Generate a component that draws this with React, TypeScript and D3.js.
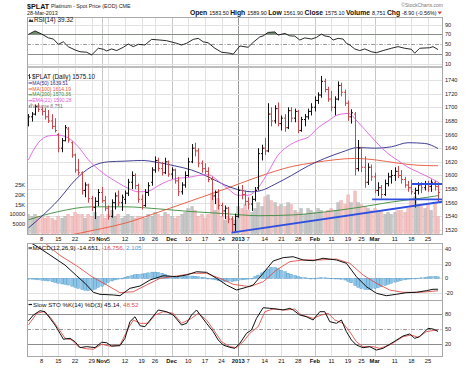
import React from "react";
import * as d3 from "d3";

// ---------- DATA ----------
const opens = [
  1676, 1686, 1690, 1701, 1697, 1694, 1686, 1680, 1672, 1660,
  1640, 1651, 1668, 1648, 1630, 1608, 1604, 1578, 1586, 1566,
  1553, 1562, 1575, 1563, 1552, 1540, 1560, 1570, 1560, 1565,
  1574, 1590, 1600, 1585, 1565, 1556, 1575, 1590, 1608, 1622,
  1610, 1604, 1620, 1602, 1608, 1592, 1576, 1586, 1600, 1620,
  1640, 1636, 1618, 1610, 1606, 1594, 1570, 1575, 1556, 1548,
  1552, 1536, 1528, 1540, 1578, 1572, 1562, 1558, 1565, 1582,
  1632, 1640, 1636, 1690, 1680, 1698, 1676, 1684, 1670, 1695,
  1684, 1694, 1666, 1682, 1686, 1694, 1700, 1710, 1718, 1738,
  1726, 1712, 1700, 1712, 1732, 1722, 1706, 1686, 1690, 1610,
  1640, 1612, 1590, 1612, 1598, 1578, 1582, 1572, 1588, 1598,
  1600, 1606, 1600, 1594, 1586, 1582, 1574, 1578, 1586, 1582,
  1588, 1584, 1590, 1583.5,
];
const highs = [
  1690, 1693, 1704, 1706, 1701, 1699, 1696, 1690, 1684, 1662,
  1655, 1674, 1671, 1650, 1632, 1624, 1606, 1590, 1588, 1570,
  1568, 1580, 1583, 1570, 1556, 1565, 1575, 1578, 1572, 1578,
  1595, 1606, 1603, 1588, 1572, 1580, 1590, 1612, 1628, 1626,
  1620, 1626, 1622, 1612, 1610, 1598, 1590, 1606, 1626, 1646,
  1648, 1640, 1622, 1618, 1612, 1598, 1578, 1580, 1560, 1556,
  1554, 1540, 1544, 1584, 1586, 1578, 1568, 1570, 1583, 1640,
  1645, 1655, 1706, 1700, 1703, 1707, 1688, 1690, 1700, 1700,
  1698, 1696, 1686, 1690, 1698, 1706, 1716, 1722, 1746, 1742,
  1730, 1724, 1716, 1738, 1736, 1726, 1710, 1697, 1693, 1652,
  1642, 1628, 1618, 1616, 1604, 1590, 1586, 1594, 1604, 1608,
  1612, 1614, 1608, 1598, 1592, 1594, 1582, 1590, 1590, 1592,
  1592, 1594, 1592, 1589.9,
];
const lows = [
  1672, 1679, 1688, 1693, 1688, 1682, 1677, 1668, 1663, 1634,
  1634, 1650, 1648, 1626, 1604, 1600, 1572, 1568, 1560, 1548,
  1536, 1555, 1560, 1548, 1535, 1538, 1550, 1555, 1548, 1558,
  1570, 1580, 1580, 1560, 1550, 1554, 1570, 1585, 1604, 1606,
  1600, 1602, 1598, 1595, 1588, 1570, 1572, 1582, 1598, 1618,
  1628, 1612, 1604, 1602, 1590, 1564, 1558, 1550, 1540, 1536,
  1530, 1517, 1518, 1538, 1565, 1556, 1550, 1548, 1562, 1578,
  1622, 1630, 1634, 1672, 1676, 1672, 1666, 1664, 1668, 1678,
  1678, 1662, 1664, 1672, 1682, 1688, 1694, 1705, 1714, 1722,
  1708, 1694, 1688, 1710, 1716, 1702, 1680, 1676, 1600, 1606,
  1605, 1582, 1586, 1592, 1574, 1570, 1566, 1570, 1584, 1588,
  1592, 1596, 1588, 1582, 1576, 1572, 1553, 1572, 1574, 1578,
  1576, 1576, 1578, 1561.9,
];
const closes = [
  1686, 1690, 1701, 1697, 1694, 1686, 1680, 1672, 1666, 1640,
  1651, 1670, 1652, 1630, 1608, 1604, 1578, 1586, 1566, 1553,
  1562, 1575, 1563, 1552, 1540, 1560, 1570, 1560, 1568, 1574,
  1590, 1600, 1585, 1565, 1556, 1575, 1585, 1608, 1622, 1610,
  1604, 1620, 1602, 1608, 1592, 1576, 1586, 1600, 1620, 1640,
  1636, 1618, 1610, 1606, 1594, 1570, 1575, 1556, 1548, 1552,
  1536, 1528, 1540, 1578, 1572, 1562, 1558, 1565, 1578, 1632,
  1640, 1636, 1690, 1680, 1698, 1676, 1684, 1670, 1695, 1684,
  1694, 1666, 1682, 1686, 1694, 1700, 1710, 1718, 1738, 1726,
  1712, 1700, 1712, 1732, 1722, 1706, 1686, 1692, 1610, 1640,
  1612, 1590, 1612, 1598, 1578, 1582, 1572, 1588, 1598, 1600,
  1606, 1600, 1594, 1586, 1582, 1576, 1578, 1586, 1582, 1588,
  1584, 1590, 1584, 1575.1,
];
// volume in thousands
const volumes = [
  10, 9, 10, 9, 9, 8, 9, 8, 7, 9,
  8, 9, 10, 9, 11, 10, 10, 8, 10, 9,
  11, 9, 10, 8, 10, 12, 9, 10, 8, 9,
  10, 9, 8, 9, 9, 8, 10, 9, 11, 10,
  9, 11, 10, 9, 8, 9, 10, 11, 13, 14,
  12, 9, 10, 8, 10, 21, 12, 18, 9, 7,
  9, 8, 7, 14, 13, 15, 12, 11, 13, 16,
  14, 19, 20, 17, 16, 14, 15, 14, 16, 15,
  12, 11, 13, 10, 13, 12, 11, 13, 12, 11,
  12, 13, 12, 16, 17, 15, 20, 16, 22, 16,
  15, 14, 13, 12, 13, 11, 12, 10, 11, 10,
  11, 12, 12, 11, 13, 18, 19, 15, 14, 13,
  15, 12, 16, 8.751,
];
// moving averages: [bar index, value]
const ma50: [number, number][] = [
  [0, 1523], [4, 1540], [9, 1564], [14, 1593], [19, 1613], [24, 1620], [29, 1621], [34, 1622],
  [39, 1619], [44, 1614], [49, 1608], [54, 1598], [59, 1586], [64, 1578], [67, 1576], [70, 1578],
  [74, 1587], [79, 1600], [84, 1614], [89, 1625], [94, 1634], [99, 1641], [104, 1640], [109, 1642],
  [114, 1648], [119, 1647], [123, 1639.51],
];
const ma100: [number, number][] = [
  [12, 1512], [16, 1516], [22, 1522], [29, 1530], [39, 1546], [49, 1563], [59, 1580], [69, 1598],
  [79, 1613], [86, 1619], [92, 1623], [98, 1625], [104, 1623], [111, 1618], [117, 1615], [123, 1614.19],
];
const ma200: [number, number][] = [
  [0, 1535], [9, 1547], [19, 1554], [29, 1554], [39, 1551], [49, 1547], [59, 1544], [69, 1541],
  [79, 1542], [89, 1546.5], [99, 1553], [109, 1561], [117, 1566], [123, 1570.36],
];
const ema21: [number, number][] = [
  [0, 1623], [3, 1648], [6, 1658], [9, 1659], [12, 1655], [15, 1642], [18, 1623], [21, 1609],
  [24, 1598], [27, 1589], [30, 1581], [33, 1576], [36, 1577], [39, 1585], [42, 1592], [45, 1596],
  [48, 1597], [51, 1600], [54, 1601], [57, 1592], [60, 1580], [63, 1571], [66, 1571], [69, 1582],
  [72, 1605], [75, 1630], [78, 1643], [81, 1651], [84, 1656], [87, 1670], [90, 1680], [93, 1689],
  [96, 1691], [99, 1678], [102, 1662], [105, 1646], [108, 1632], [111, 1622], [114, 1612],
  [117, 1605], [120, 1598], [123, 1590.28],
];
// trend-line annotations: [bar index, price]
const trendRise: [number, number][] = [[61, 1516], [124.5, 1561.6]];
const trendLow: [number, number][] = [[103.2, 1565], [124.3, 1565]];
const trendHigh: [number, number][] = [[115.2, 1587.5], [124.3, 1587.5]];

const rsi: [number, number][] = [
  [0, 70], [2, 77], [4, 70.6], [6, 63], [7.5, 60.6], [9, 50], [10.5, 55], [12, 45], [14, 38.6],
  [15.5, 35], [17.5, 34], [19, 28.6], [21, 42], [22.5, 40], [23.5, 36.6], [25, 40.6], [26.5, 37.3],
  [28.5, 44], [30, 50.6], [31.5, 45.3], [33, 50], [35, 48.6], [37, 60], [39.5, 58.6], [41.5, 57.3],
  [44.5, 52], [46, 48.6], [47.5, 52], [49.5, 60], [51, 62], [52.5, 55], [54, 53], [56, 42], [58, 34],
  [60.5, 32], [61.5, 30], [63.5, 46.6], [66, 44], [67.5, 54], [69.5, 65], [70.5, 67], [72, 74],
  [74, 75], [75, 68.6], [77, 72], [78.5, 67], [80, 66.6], [81.5, 58.6], [83, 63], [85, 60.6],
  [86.5, 64], [88, 70.6], [89, 67], [90.5, 65], [91.5, 58.6], [93, 62], [94.5, 60.6], [95.5, 52],
  [96.5, 48.6], [98, 40.6], [99.5, 37.3], [101, 40.6], [103, 35], [104.5, 33], [106.5, 37.3],
  [109, 42], [111, 45.3], [113, 42], [115, 40], [116, 32], [117.5, 42], [120.5, 43], [121.5, 45.3],
  [123, 39.32],
];
const macdLine: [number, number][] = [
  [0, 50], [3, 42], [6.5, 31.6], [11, 18], [14.5, 3.5], [17, -6.6], [19.5, -18.8], [21.5, -21.5],
  [25.5, -22.4], [27.5, -23.4], [30.5, -13.4], [33.5, -10.3], [36.5, -2.2], [40.5, 3.6], [44.5, 2.3],
  [47.5, 4.6], [50.5, 9], [53.5, 8.2], [56.5, 0.1], [59.5, -8.9], [62.5, -15.7], [65.5, -12],
  [67.5, -8.9], [70.5, 6.9], [73.5, 23.5], [76.5, 28], [79.5, 29.3], [82.5, 24.9], [85.5, 23.9],
  [88.5, 27.2], [92.5, 24.9], [95.5, 20.4], [98.5, 2.3], [101.5, -11.2], [104.5, -20.1],
  [107.5, -23.4], [110.5, -21.5], [113.5, -19.3], [116.5, -18.8], [119.5, -16.6], [121.5, -14.7],
  [123, -14.651],
];
const macdSignal: [number, number][] = [
  [0, 60], [4, 52], [7, 40], [9.5, 31], [14.5, 17], [19, 2.5], [23.5, -8.9], [27.5, -19.3],
  [31.5, -18], [35.5, -8.9], [39.5, 0.1], [44.5, 3.2], [49.5, 6.9], [53.5, 6.9], [57.5, 0.1],
  [61.5, -8], [66.5, -11.2], [70.5, -4.5], [74.5, 11.4], [78.5, 22.6], [82.5, 24.9], [87.5, 24.9],
  [92.5, 26.2], [96.5, 20.4], [100.5, 4.6], [104.5, -6.6], [108.5, -15.7], [112.5, -18.8],
  [117.5, -18.8], [123, -16.756],
];
const macdHist = [
  -1.5, -1, -1.5, -2, -2.5, -3, -3.5, -4.5, -5.5, -6.5,
  -7.5, -8, -9, -10.5, -12, -13.5, -15, -16, -16.5, -16,
  -14.5, -12, -10.5, -8, -5.5, -3.5, -2, -1, 0, 1.5,
  3, 4, 5, 5.5, 6, 6.5, 7.5, 8.5, 8.5, 8,
  7, 5.5, 3.5, 2, 1.5, 1.8, 2.5, 3, 3.4, 3.2,
  3, 2.2, 1.5, 0.8, 0, -1, -2, -3, -3.8, -4.2,
  -4.4, -4.2, -3.5, -2.5, -2, -1.5, -1, 0, 2.5, 4.5,
  7.5, 10, 12.5, 15, 14.5, 13, 11, 9, 7, 5.5,
  4, 2.5, 1.5, 1, 0.3, 0, 0, 0.5, 1, 0.8,
  0.5, 0.2, 0, -0.5, -1.2, -2.2, -4, -6, -9.5, -12,
  -14, -15, -15, -14.5, -13.5, -12.5, -11, -9.5, -8, -6.5,
  -5, -4, -3, -2, -1, -0.5, 0, 0.3, 0.8, 1.3,
  2, 2.5, 2.8, 2.105,
];
const stoK: [number, number][] = [
  [0, 66.3], [1.5, 78.6], [3.5, 87.3], [5, 85.3], [6.5, 71.8], [8, 58], [9.5, 41], [10.5, 29],
  [12.5, 31], [14, 24], [15.5, 12], [17.5, 14], [20, 12], [22, 23], [23.5, 22], [25, 15],
  [27.5, 16], [29, 31], [30.5, 65], [32, 75], [33.5, 56.7], [35, 54.7], [36.5, 68], [39, 88.8],
  [41.5, 85.3], [43.5, 78.6], [46, 58], [47.5, 61.6], [49, 78.6], [50.5, 88.8], [52, 75],
  [53.5, 61.6], [55.5, 44.5], [57, 27.6], [58.5, 17.3], [60.5, 12.6], [62, 10.6], [63.5, 20.8],
  [65.5, 41.2], [67, 48], [68.5, 71.8], [70.5, 93.5], [72.5, 92.2], [74.5, 90.8], [76.5, 88.8],
  [78.5, 92.2], [79.5, 88.8], [81.5, 78.6], [83.5, 75], [85.5, 68.4], [87.5, 85.3], [89, 85.3],
  [90.5, 65], [92.5, 61.6], [94, 68.4], [95.5, 44.5], [97, 27.6], [98.5, 17.3], [100.5, 11.8],
  [102.5, 13.9], [104.5, 7.1], [106.5, 10.6], [109.5, 22.9], [112.5, 35.7], [114.5, 39.8],
  [116, 31], [117.5, 34.3], [120, 51.4], [121.5, 50], [123, 45.14],
];
const stoD: [number, number][] = [
  [0, 58], [2.5, 82], [4.5, 85.3], [6.5, 75], [9, 51.4], [11, 31], [13, 27.6], [15, 13.9],
  [17, 10], [19.5, 8.6], [22, 18.8], [24.5, 15], [27.5, 17.3], [30, 51.4], [31.5, 68.4],
  [33.5, 61.6], [36, 61.6], [38, 78.6], [40.5, 85.3], [43.5, 82], [46, 61.6], [49, 71.8], [51, 82],
  [53.5, 68.4], [56, 44.5], [58, 24], [60.5, 13.9], [62.5, 11.8], [64.5, 24], [66.5, 41.2],
  [69, 54.7], [71, 85.3], [73.5, 90.8], [77.5, 88.8], [80, 90.8], [82, 78.6], [85.5, 71.8],
  [88, 78.6], [90, 82], [92, 68.4], [94.5, 61.6], [96.5, 44.5], [98.5, 24], [100.5, 13.9],
  [103.5, 13.9], [105.5, 10.6], [108.5, 17.3], [112.5, 34.3], [115, 37.8], [117, 33],
  [119.5, 44.5], [123, 48.52],
];

const xTickIdx = [4, 9, 14, 19, 22, 24, 29, 34, 38, 43, 48, 53, 58, 63, 66, 71, 76, 81, 86, 91, 96, 100, 104, 110, 115, 120];
const xTickLabels = ["8", "15", "22", "29", "Nov", "5", "12", "19", "26", "Dec", "10", "17", "24", "2013", "7", "14", "21", "28", "Feb", "11", "19", "25", "Mar", "11", "18", "25"];
const monthLabels = ["Nov", "Dec", "2013", "Feb", "Mar"];
const priceTicks = [1520, 1540, 1560, 1580, 1600, 1620, 1640, 1660, 1680, 1700, 1720, 1740];
const volTicks = [5, 10, 15, 20, 25];
const volTickLabels = ["5000", "10000", "15K", "20K", "25K"];
const rsiTicks = [10, 30, 50, 70, 90];
const macdTicks = [-20, 0, 20, 40];
const stoTicks = [20, 50, 80];

// ---------- CHART ----------
const FONT = "Liberation Sans, Arial, sans-serif";
const RED = "#d0454a";

export default function App() {
  const W = 467, H = 379, L = 27, R = 442;
  const P = {
    rsi: [17, 66.5],
    main: [66.5, 234],
    macd: [243, 300],
    sto: [300, 356],
  } as Record<string, [number, number]>;
  const x = d3.scaleLinear().domain([0, 123]).range([28.4, 438]);
  const yP = d3.scaleLinear().domain([1520, 1740]).range([230, 80]);
  const yV = d3.scaleLinear().domain([0, 25]).range([233.7, 185.2]);
  const yR = d3.scaleLinear().domain([10, 90]).range([64.1, 24.5]);
  const yM = d3.scaleLinear().domain([-20, 40]).range([293.2, 248.8]);
  const yS = d3.scaleLinear().domain([20, 80]).range([343.7, 314.3]);

  const lineOf = (ys: d3.ScaleLinear<number, number>, curve = d3.curveLinear) =>
    d3.line<[number, number]>().x((d) => x(d[0])).y((d) => ys(d[1])).curve(curve);
  const smooth = lineOf(yP, d3.curveMonotoneX);

  const vGrid = (top: number, bottom: number) =>
    xTickIdx.map((t, i) => {
      const lab = xTickLabels[i];
      const isYear = lab === "2013";
      const isMonth = monthLabels.includes(lab);
      const xx = Math.round(x(t)) + 0.5;
      return (
        <line key={"vg" + i + top} x1={xx} x2={xx} y1={top} y2={bottom}
          stroke={isYear ? "#9a9a9a" : isMonth ? "#c8c8c8" : "#e2e2e2"} strokeWidth={1} />
      );
    });

  const hLine = (y: number, key: string, color = "#e2e2e2", dash?: string) => (
    <line key={key} x1={L} x2={R} y1={Math.round(y) + 0.5} y2={Math.round(y) + 0.5} stroke={color} strokeWidth={1} strokeDasharray={dash} />
  );

  const rightLabel = (y: number, text: string, key: string) => (
    <text key={key} x={445} y={y + 2} fontSize={5.6} fill="#222">{text}</text>
  );

  const xAxisLabels = (y: number, keyp: string) =>
    xTickIdx.map((t, i) => {
      const lab = xTickLabels[i];
      const bold = monthLabels.includes(lab);
      return (
        <text key={keyp + i} x={x(t)} y={y} fontSize={5.8} textAnchor="middle" fontWeight={bold ? "bold" : "normal"} fill="#111">
          {lab}
        </text>
      );
    });

  // RSI fill above 70
  const rsiArea = d3.area<[number, number]>().x((d) => x(d[0])).y0(yR(70)).y1((d) => yR(d[1]));

  const frame = (p: [number, number], key: string) => (
    <rect key={key} x={L + 0.5} y={p[0] + 0.5} width={R - L} height={p[1] - p[0]} fill="none" stroke="#a8a8a8" strokeWidth={1} />
  );

  return (
    <div style={{ position: "fixed", left: 0, top: 0, width: W, height: H, background: "#fff" }}>
      <svg width={W} height={H} style={{ display: "block" }} fontFamily={FONT}>
        <defs>
          {Object.entries(P).map(([k, p]) => (
            <clipPath id={"clip-" + k} key={k}>
              <rect x={L + 1} y={p[0] + 1} width={R - L - 1} height={p[1] - p[0] - 1} />
            </clipPath>
          ))}
          <clipPath id="clip-rsi-top">
            <rect x={L} y={P.rsi[0]} width={R - L} height={yR(70) - P.rsi[0]} />
          </clipPath>
        </defs>
        <rect x={0} y={0} width={W} height={H} fill="#fff" />

        {/* ---------- header ---------- */}
        <text x={27} y={8.5} fontSize={7.2} fontWeight="bold" fill="#111">$PLAT</text>
        <text x={51} y={8.2} fontSize={5.3} fill="#222">Platinum - Spot Price (EOD) CME</text>
        <text x={27} y={15} fontSize={5.4} fill="#222">28-Mar-2013</text>
        <text x={443} y={6.5} fontSize={5} textAnchor="end" fill="#777">©StockCharts.com</text>
        <text x={436.5} y={15} textAnchor="end" fill="#111">
          <tspan fontSize={6.8} fontWeight="bold">Open </tspan>
          <tspan fontSize={5.4}>1583.50 </tspan>
          <tspan fontSize={6.8} fontWeight="bold">High </tspan>
          <tspan fontSize={5.4}>1589.90 </tspan>
          <tspan fontSize={6.8} fontWeight="bold">Low </tspan>
          <tspan fontSize={5.4}>1561.90 </tspan>
          <tspan fontSize={6.8} fontWeight="bold">Close </tspan>
          <tspan fontSize={5.4}>1575.10 </tspan>
          <tspan fontSize={6.8} fontWeight="bold">Volume </tspan>
          <tspan fontSize={5.4}>8,751 </tspan>
          <tspan fontSize={6.8} fontWeight="bold">Chg </tspan>
          <tspan fontSize={5.4}>-8.90 (-0.56%)</tspan>
        </text>
        <path d="M437.5,11.5 L442,11.5 L439.75,14.5 Z" fill={RED} />

        {/* ---------- RSI panel ---------- */}
        {vGrid(P.rsi[0], P.rsi[1])}
        {hLine(yR(90), "r90")}
        {hLine(yR(10), "r10")}
        {hLine(yR(70), "r70", "#8c8c8c")}
        {hLine(yR(30), "r30", "#8c8c8c")}
        {hLine(yR(50), "r50", "#9a9a9a", "4,1.5,1,1.5")}
        <g clipPath="url(#clip-rsi-top)">
          <path d={rsiArea(rsi) || ""} fill="#6f8f6f" />
        </g>
        <g clipPath="url(#clip-rsi)">
          <path d={lineOf(yR)(rsi) || ""} fill="none" stroke="#111" strokeWidth={0.9} />
        </g>
        {frame(P.rsi, "frsi")}
        <path d="M28.5,22 L30,18.5 L31.2,20.5 L32.3,19.2 L33.5,22 Z" fill="#333" />
        <text x={34} y={22} fontSize={6.3} fill="#111">RSI(14) 39.32</text>
        {rsiTicks.map((t) => rightLabel(yR(t), String(t), "rt" + t))}

        {/* ---------- main panel ---------- */}
        {vGrid(P.main[0], P.main[1])}
        {priceTicks.map((t) => hLine(yP(t), "pg" + t))}
        <g clipPath="url(#clip-main)">
          {volumes.map((v, i) => {
            const down = i > 0 && closes[i] < closes[i - 1];
            const cx = Math.round(x(i));
            return (
              <rect key={"v" + i} x={cx - 1.2} y={yV(v)} width={2.6} height={yV(0) - yV(v)}
                fill={down ? "#f3c3c3" : "#c6c6c6"} stroke={down ? "#e3a0a0" : "#ababab"} strokeWidth={0.4} />
            );
          })}
          <path d={smooth(ma200) || ""} fill="none" stroke="#3b8a3b" strokeWidth={0.9} />
          <path d={smooth(ma100) || ""} fill="none" stroke="#e8553a" strokeWidth={0.9} />
          <path d={smooth(ma50) || ""} fill="none" stroke="#2b2b8a" strokeWidth={0.9} />
          <path d={smooth(ema21) || ""} fill="none" stroke="#e060e0" strokeWidth={0.9} />
          {closes.map((c, i) => {
            const up = i === 0 ? true : c >= closes[i - 1];
            const col = up ? "#111" : RED;
            const cx = Math.round(x(i)) + 0.5;
            return (
              <g key={"b" + i} stroke={col} strokeWidth={1}>
                <line x1={cx} x2={cx} y1={yP(highs[i])} y2={yP(lows[i])} />
                <line x1={cx - 1.5} x2={cx} y1={yP(opens[i])} y2={yP(opens[i])} />
                <line x1={cx} x2={cx + 1.5} y1={yP(c)} y2={yP(c)} />
              </g>
            );
          })}
          {[trendRise, trendLow, trendHigh].map((tl, k) => (
            <line key={"tl" + k} x1={x(tl[0][0])} y1={yP(tl[0][1])} x2={x(tl[1][0])} y2={yP(tl[1][1])}
              stroke="#2f4fe0" strokeWidth={1.8} />
          ))}
        </g>
        {frame(P.main, "fmain")}
        {priceTicks.map((t) => rightLabel(yP(t), String(t), "pt" + t))}
        {volTicks.map((t, i) => (
          <text key={"vt" + t} x={25} y={yV(t) + 2} fontSize={5.6} textAnchor="end" fill="#222">{volTickLabels[i]}</text>
        ))}
        {/* legend */}
        <g>
          <path d="M29.5,74 L29.5,79 M28.3,75.5 L29.5,75.5 M29.5,77.5 L30.7,77.5" stroke="#111" strokeWidth={0.8} fill="none" />
          <text x={32} y={79} fontSize={6.3} fill="#111">$PLAT (Daily) 1575.10</text>
          {[
            ["MA(50) 1639.51", "#2b2b8a", 84.6],
            ["MA(100) 1614.19", "#e8553a", 90.6],
            ["MA(200) 1570.36", "#3b8a3b", 96.4],
            ["EMA(21) 1590.28", "#e060e0", 102.3],
          ].map(([t, c, y]) => (
            <g key={t as string}>
              <line x1={28.5} x2={32} y1={(y as number) - 1.6} y2={(y as number) - 1.6} stroke={c as string} strokeWidth={1} />
              <text x={32.3} y={y as number} fontSize={5} fill={c as string}>{t}</text>
            </g>
          ))}
          <rect x={28.8} y={104.8} width={1.2} height={3.2} fill="#999" />
          <rect x={30.5} y={103.5} width={1.2} height={4.5} fill="#999" />
          <text x={32.3} y={108.2} fontSize={5} fill="#777">Volume 8,751</text>
        </g>
        {xAxisLabels(240.8, "xa")}

        {/* ---------- MACD panel ---------- */}
        {vGrid(P.macd[0], P.macd[1])}
        {macdTicks.map((t) => hLine(yM(t), "mg" + t))}
        <g clipPath="url(#clip-macd)">
          {macdHist.map((h, i) => {
            const cx = Math.round(x(i));
            const y0 = yM(0), y1 = yM(h);
            return (
              <rect key={"h" + i} x={cx - 1.2} y={Math.min(y0, y1)} width={2.6} height={Math.max(0.6, Math.abs(y1 - y0))}
                fill="#8cc4e8" stroke="#3f8fc4" strokeWidth={0.4} />
            );
          })}
          <path d={lineOf(yM)(macdSignal) || ""} fill="none" stroke="#e0504a" strokeWidth={0.9} />
          <path d={lineOf(yM)(macdLine) || ""} fill="none" stroke="#111" strokeWidth={1} />
        </g>
        {frame(P.macd, "fmacd")}
        <line x1={28.5} x2={32} y1={248} y2={248} stroke="#111" strokeWidth={1.2} />
        <text x={32.5} y={250} fontSize={6.2} fill="#111">
          MACD(12,26,9) -14.651, <tspan fill="#e0504a">-16.756, </tspan><tspan fill="#4aa3df">2.105</tspan>
        </text>
        {macdTicks.map((t) => rightLabel(yM(t), String(t), "mt" + t))}

        {/* ---------- Slow STO panel ---------- */}
        {vGrid(P.sto[0], P.sto[1])}
        {hLine(yS(80), "s80", "#8c8c8c")}
        {hLine(yS(20), "s20", "#8c8c8c")}
        {hLine(yS(50), "s50", "#9a9a9a", "4,1.5,1,1.5")}
        <g clipPath="url(#clip-sto)">
          <path d={lineOf(yS)(stoD) || ""} fill="none" stroke="#e0504a" strokeWidth={0.9} />
          <path d={lineOf(yS)(stoK) || ""} fill="none" stroke="#111" strokeWidth={1} />
        </g>
        {frame(P.sto, "fsto")}
        <line x1={28.5} x2={32} y1={304.5} y2={304.5} stroke="#111" strokeWidth={1.2} />
        <text x={33} y={306.5} fontSize={6.2} fill="#111">
          Slow STO %K(14) %D(3) 45.14, <tspan fill="#e0504a">48.52</tspan>
        </text>
        {stoTicks.map((t) => rightLabel(yS(t), String(t), "st" + t))}
        {xAxisLabels(363, "xb")}
      </svg>
    </div>
  );
}
